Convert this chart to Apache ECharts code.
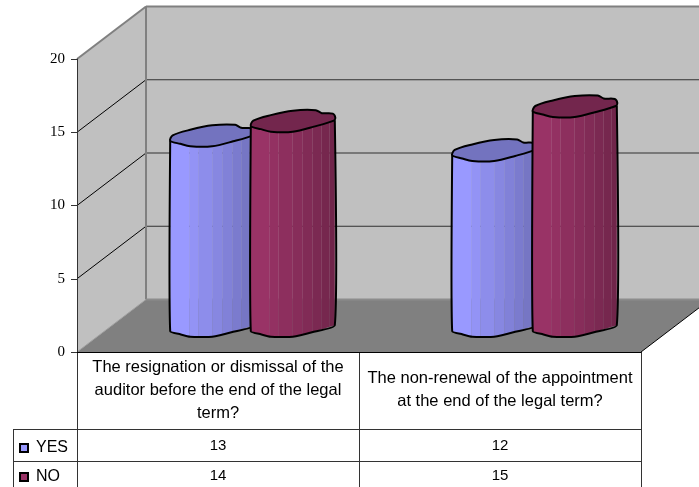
<!DOCTYPE html>
<html>
<head>
<meta charset="utf-8">
<style>html,body{margin:0;padding:0;background:#fff}#chart{width:699px;height:487px}</style>
<script src="https://cdn.jsdelivr.net/npm/echarts@6/dist/echarts.min.js"></script>
</head>
<body>
<div id="chart"></div>
<script>
// Survey answers per question
const categories = [
  'The resignation or dismissal of the\nauditor before the end of the legal\nterm?',
  'The non-renewal of the appointment\nat the end of the legal term?'
];
const yesValues = [13, 12];
const noValues = [14, 15];
const yTicks = [0, 5, 10, 15, 20];
const seriesNames = ['YES', 'NO'];

const FONT = '"Liberation Sans", Arial, sans-serif';
const DEPTH_X = 69, DEPTH_Y = -52.5;       // oblique offset of the back plane
const BAR_SHIFT = 40.3;                    // sideways shift of each cylinder from the category centre

// Faceted cylinder cross-section, in pixels around its axis
const RING = [[-42,5.5],[-39.5,0],[-22,-5.5],[0,-10],[23,-10.5],[29,-7.5],[40,-7],[42.5,-3],[41,0],[21,6],[0,11],[-22,11],[-32,8.5]];
const LOWER = [[-42,5.5],[-32,8.5],[-22,11],[0,11],[21,6],[42,-0.5]];
const FACETS = [-42,-23,-14,0,10,20,29,37,42];

function lowerY(dx) {
  for (let i = 1; i < LOWER.length; i++) {
    if (dx <= LOWER[i][0]) {
      const a = LOWER[i - 1], b = LOWER[i];
      return a[1] + (b[1] - a[1]) * (dx - a[0]) / (b[0] - a[0]);
    }
  }
  return LOWER[LOWER.length - 1][1];
}
function shade(rgb, k) {
  return 'rgb(' + rgb.map(c => Math.round(c * k)).join(',') + ')';
}

function cylinderRenderer(rgb, shift) {
  return function (params, api) {
    const top = api.coord([api.value(0), api.value(1)]);
    const base = api.coord([api.value(0), 0]);
    const cx = top[0] + shift + DEPTH_X / 2;
    const ty = top[1] + DEPTH_Y / 2;
    const by = base[1] + DEPTH_Y / 2;
    const children = [];
    // side facets, darkening towards the right
    for (let i = 0; i < FACETS.length - 1; i++) {
      const a = FACETS[i], b = FACETS[i + 1];
      children.push({
        type: 'polygon',
        shape: { points: [[cx + a, ty + lowerY(a)], [cx + b, ty + lowerY(b)], [cx + b, by + lowerY(b)], [cx + a, by + lowerY(a)]] },
        style: { fill: shade(rgb, 1 - 0.27 * i / (FACETS.length - 2)), stroke: null }
      });
    }
    // silhouette of the sides and the base
    const outline = [[cx - 42, ty + 5.5]];
    LOWER.forEach(p => outline.push([cx + p[0], by + p[1]]));
    outline.push([cx + 42, ty - 0.5]);
    children.push({
      type: 'polyline',
      shape: { points: outline, smooth: 0.15 },
      style: { stroke: '#000', lineWidth: 2, fill: null }
    });
    // top cap
    children.push({
      type: 'polygon',
      shape: { points: RING.map(p => [cx + p[0], ty + p[1]]), smooth: 0.3 },
      style: { fill: shade(rgb, 0.75), stroke: '#000', lineWidth: 2 }
    });
    return { type: 'group', children };
  };
}

function renderWalls(params, api) {
  const cs = params.coordSys;
  const left = cs.x, right = cs.x + cs.width;
  const y0 = api.coord([0, 0])[1];
  const yTop = api.coord([0, yTicks[yTicks.length - 1]])[1];
  const children = [
    { type: 'polygon', shape: { points: [[left + DEPTH_X, yTop + DEPTH_Y], [right + DEPTH_X, yTop + DEPTH_Y], [right + DEPTH_X, y0 + DEPTH_Y], [left + DEPTH_X, y0 + DEPTH_Y]] }, style: { fill: '#C0C0C0' } },
    { type: 'polygon', shape: { points: [[left, yTop], [left + DEPTH_X, yTop + DEPTH_Y], [left + DEPTH_X, y0 + DEPTH_Y], [left, y0]] }, style: { fill: '#C0C0C0' } },
    { type: 'polygon', shape: { points: [[left, y0], [right, y0], [right + DEPTH_X, y0 + DEPTH_Y], [left + DEPTH_X, y0 + DEPTH_Y]] }, style: { fill: '#808080' } }
  ];
  yTicks.forEach(t => {
    const y = api.coord([0, t])[1];
    if (t > 0 && t < yTicks[yTicks.length - 1]) {
      children.push({ type: 'line', shape: { x1: left, y1: y, x2: left + DEPTH_X, y2: y + DEPTH_Y }, style: { stroke: '#000', lineWidth: 1 } });
      children.push({ type: 'line', shape: { x1: left + DEPTH_X, y1: y + DEPTH_Y, x2: right + DEPTH_X, y2: y + DEPTH_Y }, style: { stroke: '#303030', lineWidth: 1 } });
    }
  });
  const edge = { stroke: '#808080', lineWidth: 2 };
  children.push(
    { type: 'line', shape: { x1: left, y1: yTop, x2: left + DEPTH_X, y2: yTop + DEPTH_Y }, style: edge },
    { type: 'line', shape: { x1: left + DEPTH_X, y1: yTop + DEPTH_Y, x2: right + DEPTH_X, y2: yTop + DEPTH_Y }, style: edge },
    { type: 'line', shape: { x1: left + DEPTH_X, y1: yTop + DEPTH_Y, x2: left + DEPTH_X, y2: y0 + DEPTH_Y }, style: edge },
    { type: 'line', shape: { x1: left + DEPTH_X, y1: y0 + DEPTH_Y, x2: right + DEPTH_X, y2: y0 + DEPTH_Y }, style: { stroke: '#8C8C8C', lineWidth: 2 } },
    { type: 'line', shape: { x1: left, y1: y0, x2: left + DEPTH_X, y2: y0 + DEPTH_Y }, style: { stroke: '#A0A0A0', lineWidth: 1 } },
    { type: 'line', shape: { x1: right, y1: y0, x2: right + DEPTH_X, y2: y0 + DEPTH_Y }, style: { stroke: '#000', lineWidth: 1 } }
  );
  return { type: 'group', children };
}

// Data table ruled under the plot, with one row per series
function renderTable(params, api) {
  const cs = params.coordSys;
  const left = cs.x, right = cs.x + cs.width, y0 = cs.y + cs.height;
  const mid = left + cs.width / 2;
  const rowA = y0 + 77, rowB = y0 + 109, end = y0 + 135;
  const rule = { stroke: '#333', lineWidth: 1 };
  const line = (x1, y1, x2, y2) => ({ type: 'line', shape: { x1, y1, x2, y2 }, style: rule });
  const children = [
    line(left + 0.5, y0, left + 0.5, end),
    line(mid + 0.5, y0, mid + 0.5, end),
    line(right + 0.5, y0, right + 0.5, end),
    line(13, rowA + 0.5, right, rowA + 0.5),
    line(13, rowB + 0.5, right, rowB + 0.5),
    line(13.5, rowA, 13.5, end)
  ];
  [yesValues, noValues].forEach((vals, r) => {
    vals.forEach((v, c) => {
      children.push({
        type: 'text',
        style: {
          x: api.coord([c, 0])[0], y: r === 0 ? rowA + 17 : rowB + 14.5,
          text: String(v), align: 'center', verticalAlign: 'middle',
          font: '15px ' + FONT, fill: '#000'
        }
      });
    });
  });
  return { type: 'group', children };
}

const chart = echarts.init(document.getElementById('chart'), null, { renderer: 'canvas' });
chart.setOption({
  animation: false,
  backgroundColor: '#fff',
  grid: { left: 77, right: 58, top: 59, bottom: 135 },
  legend: {
    data: seriesNames,
    orient: 'vertical',
    left: 19, top: 440,
    itemWidth: 8, itemHeight: 8, itemGap: 13,
    icon: 'rect',
    selectedMode: false,
    padding: 0,
    textStyle: { fontFamily: FONT, fontSize: 16, color: '#000', padding: [0, 0, 0, 3] }
  },
  xAxis: {
    type: 'category',
    data: categories,
    z: 5,
    axisLine: { show: true, lineStyle: { color: '#000', width: 1 } },
    axisTick: { show: false },
    splitLine: { show: false },
    axisLabel: {
      interval: 0, margin: 38, verticalAlign: 'middle', align: 'center',
      fontFamily: FONT, fontSize: 16.5, lineHeight: 23, color: '#000'
    }
  },
  yAxis: {
    type: 'value',
    min: 0, max: 20, interval: 5,
    z: 5,
    axisLine: { show: true, lineStyle: { color: '#333', width: 1 } },
    axisTick: { show: true, length: 6, lineStyle: { color: '#333', width: 1 } },
    splitLine: { show: false },
    axisLabel: { margin: 12, fontFamily: '"Liberation Serif", serif', fontSize: 15, color: '#000' }
  },
  series: [
    { type: 'custom', name: 'walls', z: 1, silent: true, clip: false, data: [[0, 0]], encode: { x: 0, y: 1 }, renderItem: renderWalls },
    { type: 'custom', name: 'YES', z: 2, clip: false, itemStyle: { color: '#9999FF', borderColor: '#000', borderWidth: 1.5 },
      data: yesValues.map((v, i) => [i, v]), encode: { x: 0, y: 1 }, renderItem: cylinderRenderer([153, 153, 255], -BAR_SHIFT) },
    { type: 'custom', name: 'NO', z: 3, clip: false, itemStyle: { color: '#993366', borderColor: '#000', borderWidth: 1.5 },
      data: noValues.map((v, i) => [i, v]), encode: { x: 0, y: 1 }, renderItem: cylinderRenderer([153, 51, 102], BAR_SHIFT) },
    { type: 'custom', name: 'table', z: 4, silent: true, clip: false, data: [[0, 0]], encode: { x: 0, y: 1 }, renderItem: renderTable }
  ]
});
</script>
</body>
</html>
